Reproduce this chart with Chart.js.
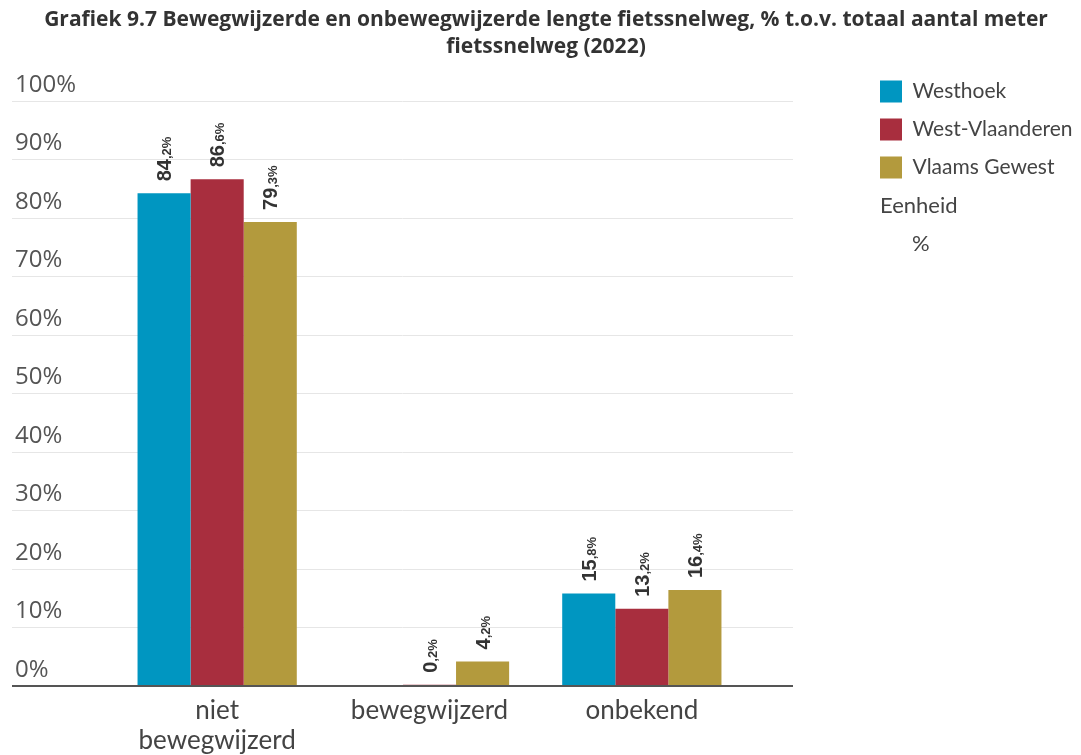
<!DOCTYPE html>
<html>
<head>
<meta charset="utf-8">
<script src="https://cdn.jsdelivr.net/npm/chart.js@4"></script>
<style>
  html, body { margin: 0; padding: 0; background: #fff; }
  #wrap { width: 1081px; height: 755px; position: relative; }
</style>
</head>
<body>
<div id="wrap"><canvas id="chart"></canvas></div>
<script>
// Data
const categories = [['niet', 'bewegwijzerd'], 'bewegwijzerd', 'onbekend'];
const westhoek = [84.2, 0, 15.8];
const westVlaanderen = [86.6, 0.2, 13.2];
const vlaamsGewest = [79.3, 4.2, 16.4];
const yTicks = [0, 10, 20, 30, 40, 50, 60, 70, 80, 90, 100];

const GRID_LEFT = 12;
const GRID_RIGHT = 793;

// Gridlines run past the plot area, like the original
const extendedGrid = {
  id: 'extendedGrid',
  beforeDatasetsDraw(chart) {
    const { ctx, scales: { y } } = chart;
    ctx.save();
    ctx.strokeStyle = '#e6e6e6';
    ctx.lineWidth = 1;
    y.ticks.forEach(t => {
      if (t.value === 0) return;
      const py = Math.round(y.getPixelForValue(t.value)) + 0.5;
      ctx.beginPath();
      ctx.moveTo(GRID_LEFT, py);
      ctx.lineTo(GRID_RIGHT, py);
      ctx.stroke();
    });
    ctx.restore();
  },
  afterDatasetsDraw(chart) {
    const { ctx, scales: { y } } = chart;
    const py = Math.round(y.getPixelForValue(0));
    ctx.save();
    ctx.strokeStyle = '#555';
    ctx.lineWidth = 2;
    ctx.beginPath();
    ctx.moveTo(GRID_LEFT, py);
    ctx.lineTo(GRID_RIGHT, py);
    ctx.stroke();
    ctx.restore();
  }
};

// Rotated value labels: big integer part, small decimal part
const valueLabels = {
  id: 'valueLabels',
  afterDatasetsDraw(chart) {
    const ctx = chart.ctx;
    chart.data.datasets.forEach((ds, di) => {
      const meta = chart.getDatasetMeta(di);
      meta.data.forEach((bar, i) => {
        const v = ds.data[i];
        if (!v) return;
        const parts = v.toFixed(1).split('.');
        const big = parts[0];
        const small = ',' + parts[1] + '%';
        ctx.save();
        ctx.translate(bar.x + 7, bar.y - 12);
        ctx.rotate(-Math.PI / 2);
        ctx.fillStyle = '#333';
        ctx.textAlign = 'left';
        ctx.textBaseline = 'alphabetic';
        ctx.font = 'bold 20px "Liberation Sans", Arial, sans-serif';
        ctx.fillText(big, 0, 0);
        const w = ctx.measureText(big).width;
        ctx.font = 'bold 13px "Liberation Sans", Arial, sans-serif';
        ctx.fillText(small, w, 0);
        ctx.restore();
      });
    });
  }
};

// "Eenheid" / "%" note under the legend
const unitNote = {
  id: 'unitNote',
  afterDraw(chart) {
    const lg = chart.legend;
    if (!lg || !lg.legendHitBoxes.length) return;
    const last = lg.legendHitBoxes[lg.legendHitBoxes.length - 1];
    const step = last.height + lg.options.labels.padding;
    const cy = last.top + last.height / 2;
    const ctx = chart.ctx;
    ctx.save();
    ctx.fillStyle = '#444';
    ctx.font = '22px Lato, sans-serif';
    ctx.textAlign = 'left';
    ctx.textBaseline = 'middle';
    ctx.fillText('Eenheid', last.left, cy + step);
    ctx.fillText('%', last.left + 32, cy + step * 2);
    ctx.restore();
  }
};

new Chart(document.getElementById('chart'), {
  type: 'bar',
  data: {
    labels: categories,
    datasets: [
      { label: 'Westhoek', data: westhoek, backgroundColor: '#0096c1', borderWidth: 0 },
      { label: 'West-Vlaanderen', data: westVlaanderen, backgroundColor: '#a82e3e', borderWidth: 0 },
      { label: 'Vlaams Gewest', data: vlaamsGewest, backgroundColor: '#b39a3d', borderWidth: 0 }
    ]
  },
  options: {
    responsive: true,
    maintainAspectRatio: false,
    animation: false,
    layout: { padding: { left: 15, right: 4, top: 0, bottom: 0 } },
    datasets: {
      bar: { categoryPercentage: 0.75, barPercentage: 1.0 }
    },
    scales: {
      x: {
        grid: { display: false, drawTicks: false },
        border: { display: false },
        ticks: {
          color: '#444',
          padding: 10,
          maxRotation: 0,
          font: { family: 'Lato', size: 26, lineHeight: 1.15 }
        },
        afterFit: s => { s.height = 69; }
      },
      y: {
        min: 0,
        max: 106.2,
        grid: { display: false, drawTicks: false },
        border: { display: false },
        afterBuildTicks: s => { s.ticks = yTicks.map(v => ({ value: v })); },
        ticks: {
          crossAlign: 'far',
          labelOffset: -16,
          color: '#555',
          font: { family: 'Open Sans', size: 24 },
          callback: v => v + '%'
        },
        afterFit: s => { s.width = 96; }
      },
      gap: {
        position: 'right',
        display: true,
        grid: { display: false, drawTicks: false },
        border: { display: false },
        ticks: { display: false },
        afterFit: s => { s.width = 116; }
      }
    },
    plugins: {
      title: {
        display: true,
        text: ['Grafiek 9.7 Bewegwijzerde en onbewegwijzerde lengte fietssnelweg, % t.o.v. totaal aantal meter', 'fietssnelweg (2022)'],
        color: '#333',
        font: { family: 'Open Sans', size: 21, weight: 'bold', lineHeight: 1.3 },
        padding: { top: 6, bottom: 4 }
      },
      legend: {
        position: 'right',
        align: 'start',
        fullSize: false,
        maxWidth: 213,
        labels: {
          boxWidth: 22,
          boxHeight: 22,
          padding: 16,
          color: '#444',
          font: { family: 'Lato', size: 21, lineHeight: 1.15 }
        }
      },
      tooltip: { enabled: false }
    }
  },
  plugins: [extendedGrid, valueLabels, unitNote]
});
</script>
</body>
</html>
